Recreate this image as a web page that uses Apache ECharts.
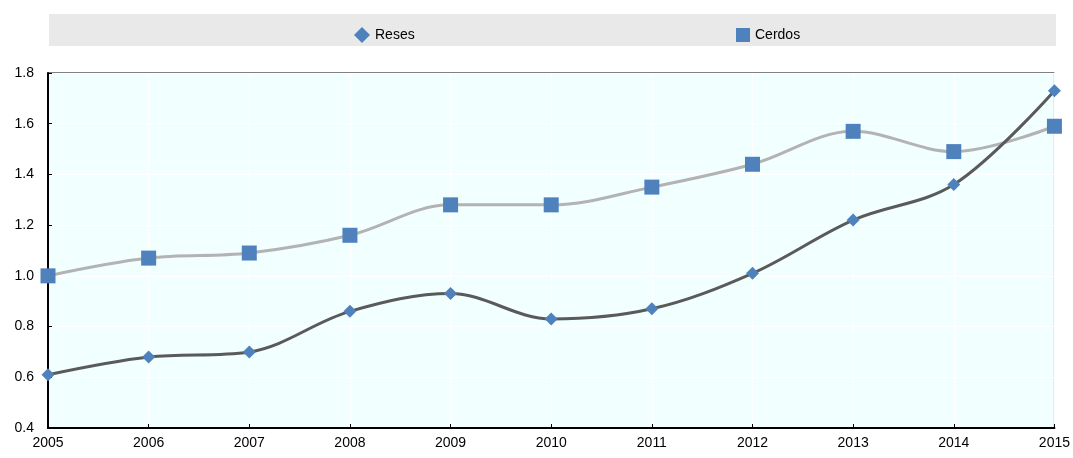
<!DOCTYPE html>
<html>
<head>
<meta charset="utf-8">
<script src="https://cdn.jsdelivr.net/npm/echarts@6/dist/echarts.min.js"></script>
<style>
  html, body { margin: 0; padding: 0; background: #fff; }
  #chart { width: 1073px; height: 458px; }
</style>
</head>
<body>
<div id="chart"></div>
<script>
// Años (eje X)
var years = ['2005', '2006', '2007', '2008', '2009', '2010', '2011', '2012', '2013', '2014', '2015'];
// Series
var reses = [0.61, 0.68, 0.70, 0.86, 0.93, 0.83, 0.87, 1.01, 1.22, 1.36, 1.73];
var cerdos = [1.00, 1.07, 1.09, 1.16, 1.28, 1.28, 1.35, 1.44, 1.57, 1.49, 1.59];
// Ticks del eje Y
var yMin = 0.4, yMax = 1.8, yStep = 0.2;

var font = 'Liberation Sans, Arial, sans-serif';
var markerColor = '#4f81bd';

var chart = echarts.init(document.getElementById('chart'));
chart.setOption({
  animation: false,
  textStyle: { fontFamily: font },
  graphic: [{
    type: 'rect',
    left: 49, top: 14,
    shape: { width: 1007, height: 32 },
    style: { fill: '#e9e9e9' },
    z: -1
  }],
  legend: [{
    data: [{ name: 'Reses', icon: 'diamond' }],
    left: 349, top: 22,
    itemWidth: 16, itemHeight: 16, itemGap: 6,
    textStyle: { fontFamily: font, fontSize: 14, color: '#000' }
  }, {
    data: [{ name: 'Cerdos', icon: 'rect' }],
    left: 731, top: 23,
    itemWidth: 14, itemHeight: 14, itemGap: 6,
    textStyle: { fontFamily: font, fontSize: 14, color: '#000' }
  }],
  grid: {
    left: 48, right: 17, top: 73, bottom: 30,
    show: true,
    backgroundColor: '#f1ffff',
    borderColor: '#000',
    borderWidth: 1
  },
  xAxis: {
    type: 'category',
    data: years,
    boundaryGap: false,
    axisLine: { lineStyle: { color: '#000', width: 2 } },
    axisTick: { inside: true, length: 4, lineStyle: { color: '#000' } },
    axisLabel: { color: '#000', fontSize: 14, fontFamily: font, margin: 8 },
    splitLine: { show: true, lineStyle: { color: '#ffffff', width: 1 } }
  },
  yAxis: {
    type: 'value',
    min: yMin, max: yMax, interval: yStep,
    axisLine: { show: true, lineStyle: { color: '#000', width: 2 } },
    axisTick: { show: true, inside: true, length: 4, lineStyle: { color: '#000' } },
    axisLabel: {
      color: '#000', fontSize: 14, fontFamily: font, margin: 14,
      formatter: function (v) { return v.toFixed(1); }
    },
    splitLine: { show: true, lineStyle: { color: '#ffffff', width: 1 } }
  },
  series: [{
    name: 'Reses',
    type: 'line',
    data: reses,
    smooth: 0.35,
    symbol: 'diamond',
    symbolSize: 13,
    itemStyle: { color: markerColor },
    lineStyle: { color: '#5a5a5a', width: 3 },
    z: 3
  }, {
    name: 'Cerdos',
    type: 'line',
    data: cerdos,
    smooth: 0.35,
    symbol: 'rect',
    symbolSize: 15,
    itemStyle: { color: markerColor },
    lineStyle: { color: '#b3b3b3', width: 3 },
    z: 2
  }]
});
</script>
</body>
</html>
